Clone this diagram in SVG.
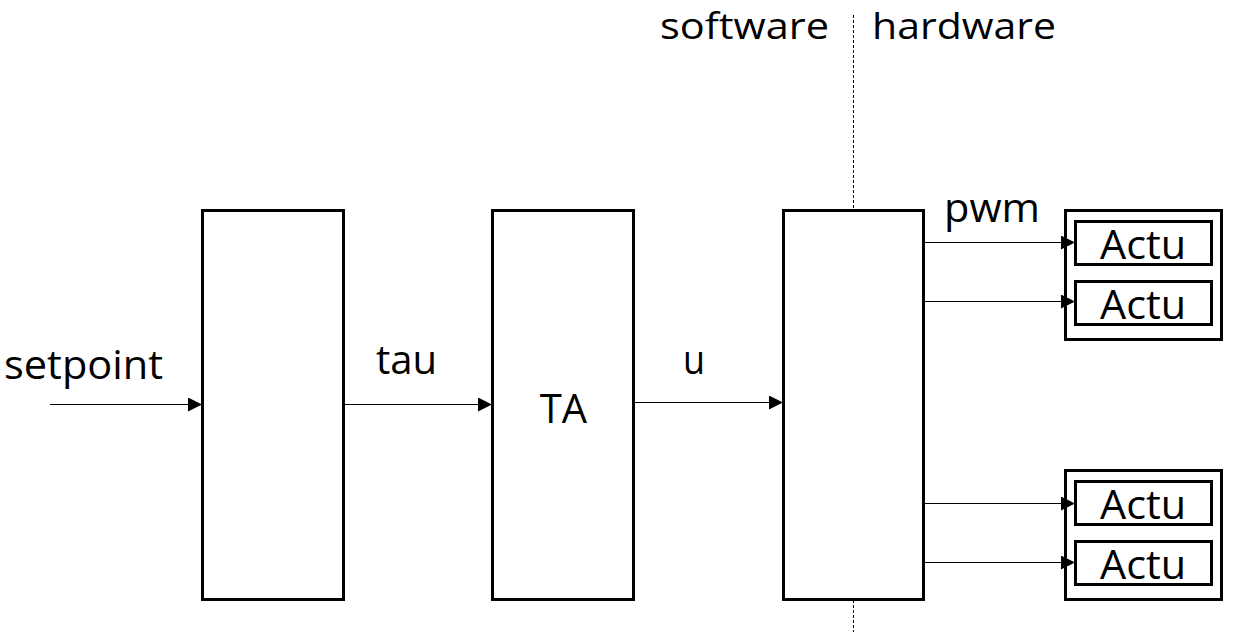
<svg xmlns="http://www.w3.org/2000/svg" width="1244" height="632" viewBox="0 0 1244 632">
<defs>
<marker id="ah" markerWidth="14" markerHeight="14" refX="14" refY="7" orient="auto" markerUnits="userSpaceOnUse"><path d="M0,0 L14,7 L0,14 Z" fill="#000"/></marker>
<style>
.box{fill:#fff;stroke:#000;stroke-width:3}
.t{font-family:"Open Sans","Liberation Sans",sans-serif;font-size:40px;fill:#000}
.top{font-size:37px}
.c{stroke:#000;stroke-width:1.2;fill:none;marker-end:url(#ah)}
</style>
</defs>
<line x1="853.5" y1="15" x2="853.5" y2="632" stroke="#000" stroke-width="1" stroke-dasharray="3,2"/>
<text class="t top" x="660" y="39" textLength="169" lengthAdjust="spacingAndGlyphs">software</text>
<text class="t top" x="872" y="39" textLength="184" lengthAdjust="spacingAndGlyphs">hardware</text>
<g id="n1"><rect class="box" x="202.5" y="210.5" width="141" height="389"/></g>
<g id="n2"><rect class="box" x="492.5" y="210.5" width="141" height="389"/><text class="t" x="563.5" y="423" text-anchor="middle">TA</text></g>
<g id="n3"><rect class="box" x="783.5" y="210.5" width="140" height="389"/></g>
<g id="g1"><rect class="box" x="1065.5" y="210.5" width="156" height="129"/>
<g id="a1"><rect class="box" x="1075.5" y="221.5" width="136" height="43"/><text class="t" x="1143" y="259" text-anchor="middle" textLength="86" lengthAdjust="spacingAndGlyphs">Actu</text></g>
<g id="a2"><rect class="box" x="1075.5" y="281.5" width="136" height="43"/><text class="t" x="1143" y="319" text-anchor="middle" textLength="86" lengthAdjust="spacingAndGlyphs">Actu</text></g>
</g>
<g id="g2"><rect class="box" x="1065.5" y="470.5" width="156" height="129"/>
<g id="a3"><rect class="box" x="1075.5" y="481.5" width="136" height="43"/><text class="t" x="1143" y="519" text-anchor="middle" textLength="86" lengthAdjust="spacingAndGlyphs">Actu</text></g>
<g id="a4"><rect class="box" x="1075.5" y="541.5" width="136" height="43"/><text class="t" x="1143" y="579" text-anchor="middle" textLength="86" lengthAdjust="spacingAndGlyphs">Actu</text></g>
</g>
<g id="connectors">
<line class="c" x1="50" y1="404.5" x2="202" y2="404.5"/>
<line class="c" x1="345" y1="404.5" x2="492" y2="404.5"/>
<line class="c" x1="635" y1="402.5" x2="783" y2="402.5"/>
<line class="c" x1="925" y1="242.5" x2="1075" y2="242.5"/>
<line class="c" x1="925" y1="301.5" x2="1075" y2="301.5"/>
<line class="c" x1="925" y1="503.5" x2="1075" y2="503.5"/>
<line class="c" x1="925" y1="562.5" x2="1075" y2="562.5"/>
<text class="t" x="4" y="379" textLength="159" lengthAdjust="spacingAndGlyphs">setpoint</text>
<text class="t" x="376" y="374" textLength="61" lengthAdjust="spacingAndGlyphs">tau</text>
<text class="t" x="683" y="374" textLength="22" lengthAdjust="spacingAndGlyphs">u</text>
<text class="t" x="944" y="222" textLength="96" lengthAdjust="spacingAndGlyphs">pwm</text>
</g>
</svg>
